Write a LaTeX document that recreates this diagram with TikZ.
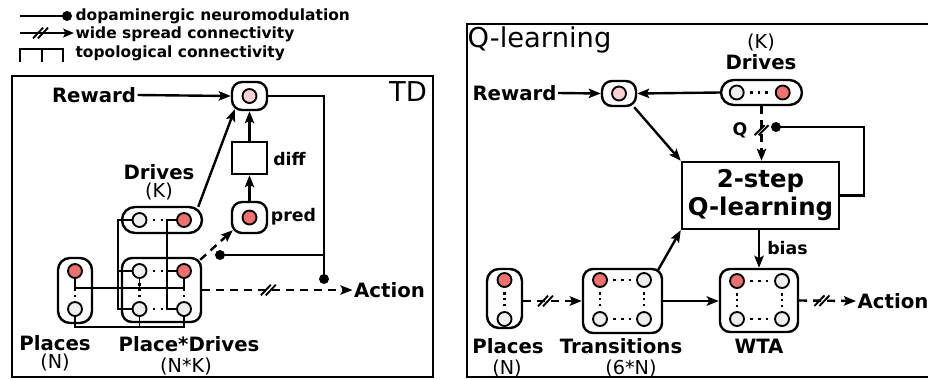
\documentclass[tikz,border=0pt]{standalone}
\usepackage{fontspec}
\setmainfont{DejaVu Sans}
\usetikzlibrary{arrows.meta,fit,calc,decorations.markings}
\definecolor{cRed}{HTML}{F07070}
\definecolor{cPink}{HTML}{FAD0D0}
\definecolor{cGray}{HTML}{EEEEEE}
\newcommand{\fBig}{\bfseries\fontsize{14.8}{17}\selectfont}
\newcommand{\fMid}{\bfseries\fontsize{13}{15}\selectfont}
\newcommand{\fLeg}{\bfseries\fontsize{11.6}{13}\selectfont}
\newcommand{\fReg}{\fontsize{14.4}{17}\selectfont}
\newcommand{\fTitle}{\fontsize{20.5}{24}\selectfont}
\newcommand{\fQ}{\bfseries\fontsize{18.3}{21}\selectfont}
\begin{document}
\begin{tikzpicture}[x=0.75pt,y=-0.75pt,
  pnl/.style={draw, line width=1.8pt, inner sep=0pt},
  rbox/.style={draw, line width=1.8pt, inner sep=0pt, rounded corners=#1},
  rbox/.default=7.5pt,
  sbox/.style={draw, line width=1.8pt, inner sep=0pt},
  nc/.style={circle, draw, line width=1.4pt, minimum size=10.5pt, inner sep=0pt},
  ncR/.style={nc, fill=cRed},
  ncG/.style={nc, fill=cGray},
  ncP/.style={nc, fill=cPink},
  con/.style={line width=1.8pt},
  arr/.style={con, -{Stealth[length=9pt,width=7pt,inset=1.8pt]}},
  dsh/.style={dash pattern=on 6pt off 4.5pt},
  topo/.style={line width=1.3pt},
  ndot/.style={circle, fill=black, minimum size=7.5pt, inner sep=0pt},
  hdots/.style={line width=2pt, dash pattern=on 2pt off 3.8pt, shorten <=4pt, shorten >=4pt},
  vdots/.style={line width=2pt, dash pattern=on 2pt off 2.4pt, shorten <=3pt, shorten >=3pt},
  slH/.style={postaction={decorate}, decoration={markings, mark=at position #1 with {\draw[solid,-,line width=1.4pt] (-5.6pt,-4pt)--(1.9pt,4pt) (-1.9pt,-4pt)--(5.6pt,4pt);}}},
  slV/.style={postaction={decorate}, decoration={markings, mark=at position #1 with {\draw[solid,-,line width=1.4pt] (3.75pt,-5.25pt)--(-3.75pt,2.25pt) (3.75pt,-2.25pt)--(-3.75pt,5.25pt);}}},
  lbl/.style={inner sep=1pt, font=\fBig},
  mlbl/.style={inner sep=1pt, font=\fMid},
  rlbl/.style={inner sep=1pt, font=\fReg}
]
\useasboundingbox (0,0) rectangle (928,379);

% ---------------- legend
\coordinate (lg1a) at (20,16);
\node[ndot] (lg1b) at (67,16) {};
\draw[con] (lg1a) -- (lg1b.center);
\node[anchor=west, inner sep=1pt, font=\fLeg] (lg1t) at (74,16) {dopaminergic neuromodulation};
\coordinate (lg2a) at (20,33);
\coordinate (lg2b) at (74,33);
\draw[con, -{Stealth[length=8pt,width=6.5pt,inset=1.5pt]}, slH=0.38] (lg2a) -- (lg2b);
\node[anchor=west, inner sep=1pt, font=\fLeg] (lg2t) at (74,34) {wide spread connectivity};
\coordinate (lg3a) at (20,62);
\coordinate (lg3b) at (63,49);
\coordinate (lg3c) at (42,49);
\draw[topo] (lg3a) |- (lg3b) -- ++(0,13);
\draw[topo] (lg3c) -- ++(0,13);
\node[anchor=west, inner sep=1pt, font=\fLeg] (lg3t) at (74,53) {topological connectivity};

% ---------------- left panel (TD)
\node[pnl, fit={(12,76) (433,377)}] (pL) {};
\node[inner sep=1pt, font=\fTitle] (tdT) at (408,92) {TD};

\node[rbox, fit={(232,82) (267,110)}] (rewL) {};
\node[ncP] (rewLc) at (rewL) {};
\node[sbox, fit={(232,142) (267,174)}] (diff) {};
\node[rbox, fit={(232,202) (267,233)}] (pred) {};
\node[ncR] (predc) at (pred) {};
\node[rbox=9.75pt, fit={(122,207) (202,233)}] (drL) {};
\node[ncG] (dr1) at (139.5,220) {};
\node[ncR] (dr2) at (184,220) {};
\node[rbox=9pt, fit={(58,258) (92,323)}] (plL) {};
\node[ncR] (pl1) at (75,271) {};
\node[ncG] (pl2) at (75,309) {};
\node[rbox, fit={(122,258) (201,322)}] (pd) {};
\node[ncG] (pd11) at (139.5,271) {};
\node[ncR] (pd12) at (184,271) {};
\node[ncG] (pd21) at (139.5,309) {};
\node[ncG] (pd22) at (184,309) {};

\node[lbl] (rewLab) at (94,95) {Reward};
\node[lbl] (drLab) at (159,172) {Drives};
\node[rlbl] (drLabK) at (159,191) {(K)};
\node[lbl] (plLab) at (55,343) {Places};
\node[rlbl] (plLabN) at (55,362) {(N)};
\node[lbl] (pdLab) at (189,344) {Place*Drives};
\node[rlbl] (pdLabN) at (186,366) {(N*K)};
\node[mlbl] (diffLab) at (289.5,159) {diff};
\node[mlbl] (predLab) at (293.5,217) {pred};
\node[lbl] (actL) at (389.5,290) {Action};

\node[ndot] (dL1) at (324,279) {};
\node[ndot] (dL2) at (220,255) {};

% dots inside populations
\draw[hdots] (dr1.east) -- (dr2.west);
\draw[hdots] (pd11.east) -- (pd12.west);
\draw[hdots] (pd21.east) -- (pd22.west);
\draw[vdots] (pl1.south) -- (pl2.north);
\draw[vdots] (pd11.south) -- (pd21.north);
\draw[vdots] (pd12.south) -- (pd22.north);

% topological connectivity
\draw[topo] (pl1.south) -- ++(0,9) -| (pd12.south);
\draw[topo] (pd11.south) -- ++(0,9);
\draw[topo] (pl2.south) -- ++(0,10) -| (pd22.south);
\draw[topo] (pd21.south) -- ++(0,10);
\draw[topo] (dr1.west) -- ++(-13.5,0) |- (pd21.west);
\draw[topo] (pd11.west) -- ++(-13.5,0);
\draw[topo] (dr2.west) -- ++(-9,0) |- (pd22.west);
\draw[topo] (pd12.west) -- ++(-9,0);

% connectors
\draw[arr] (rewLab.east) -- (rewL.west);
\draw[arr] (diff.north) -- (rewL.south);
\draw[arr] (pred.north) -- (diff.south);
\draw[arr] ($(drL.north east)+(-5,1)$) -- ($(rewL.south west)+(4,-2)$);
\draw[arr, dsh] ($(pd.north east)+(-2,3)$) -- ($(pred.south west)+(2,-4)$);
\draw[con] (rewL.east) -| (dL1.center);
\draw[con] (dL2.center) -- (dL2 -| dL1);
\draw[arr, dsh, slH=0.44] (pd.east |- actL) -- (actL.west);

% ---------------- right panel (Q-learning)
\node[pnl, fit={(467,24) (935,377)}] (pR) {};
\node[inner sep=1pt, font=\fTitle] (qT) at (539.5,40) {Q-learning};

\node[rbox, fit={(602,81) (636,106)}] (rewR) {};
\node[ncP] (rewRc) at (rewR) {};
\node[rbox=9.5pt, fit={(721,80) (802,105)}] (drR) {};
\node[ncG] (drR1) at (736.7,92.5) {};
\node[ncR] (drR2) at (782.7,92.5) {};
\node[sbox, fit={(682,162) (839,229)}] (q2) {};
\node[inner sep=0pt, font=\fQ, align=center] (q2t) at (q2.center) {2-step\\Q-learning};
\node[rbox=9pt, fit={(487,269) (522,328)}] (plR) {};
\node[ncR] (plR1) at (504.5,280) {};
\node[ncG] (plR2) at (504.5,319) {};
\node[rbox, fit={(583,269) (662,333)}] (tr) {};
\node[ncR] (tr11) at (600,280) {};
\node[ncG] (tr12) at (644,280) {};
\node[ncG] (tr21) at (600,319) {};
\node[ncG] (tr22) at (644,319) {};
\node[rbox, fit={(720,269) (798,332)}] (wta) {};
\node[ncR] (wt11) at (737,281) {};
\node[ncG] (wt12) at (782,281) {};
\node[ncG] (wt21) at (737,319) {};
\node[ncG] (wt22) at (782,319) {};

\node[lbl] (rewLabR) at (514.5,93) {Reward};
\node[lbl] (drRLab) at (761,62) {Drives};
\node[rlbl] (drRK) at (761,42) {(K)};
\node[lbl] (plRLab) at (508,346) {Places};
\node[rlbl] (plRN) at (507,368) {(N)};
\node[lbl] (trLab) at (621,346) {Transitions};
\node[rlbl] (trN) at (631,368) {(6*N)};
\node[lbl] (wtaLab) at (759,346) {WTA};
\node[mlbl] (biasLab) at (787.5,248) {bias};
\node[mlbl] (qLab) at (740,130) {Q};
\node[lbl] (actR) at (893,301) {Action};
\node[ndot] (dR) at (776,127) {};

\draw[hdots] (drR1.east) -- (drR2.west);
\draw[vdots] (plR1.south) -- (plR2.north);
\draw[hdots] (tr11.east) -- (tr12.west);
\draw[hdots] (tr21.east) -- (tr22.west);
\draw[vdots] (tr11.south) -- (tr21.north);
\draw[vdots] (tr12.south) -- (tr22.north);
\draw[hdots] (wt11.east) -- (wt12.west);
\draw[hdots] (wt21.east) -- (wt22.west);
\draw[vdots] (wt11.south) -- (wt21.north);
\draw[vdots] (wt12.south) -- (wt22.north);

\draw[arr] (rewLabR.east) -- (rewR.west);
\draw[arr] (drR.west) -- (rewR.east);
\draw[arr] ($(rewR.south east)+(-3,0)$) -- (q2.north west);
\draw[arr] ($(tr.north east)+(-5,2)$) -- (q2.south west);
\draw[arr] (wta.north |- q2.south) -- (wta.north);
\draw[arr, dsh, slV=0.44] (drR.south) -- (drR.south |- q2.north);
\draw[con] (q2.east) -- ++(24,0) |- (dR.center);
\draw[arr, dsh, slH=0.38] (plR.east |- tr.west) -- (tr.west);
\draw[arr] (tr.east) -- (wta.west |- tr.east);
\draw[arr, dsh, slH=0.4] (wta.east) -- (actR.west);
\end{tikzpicture}
\end{document}
